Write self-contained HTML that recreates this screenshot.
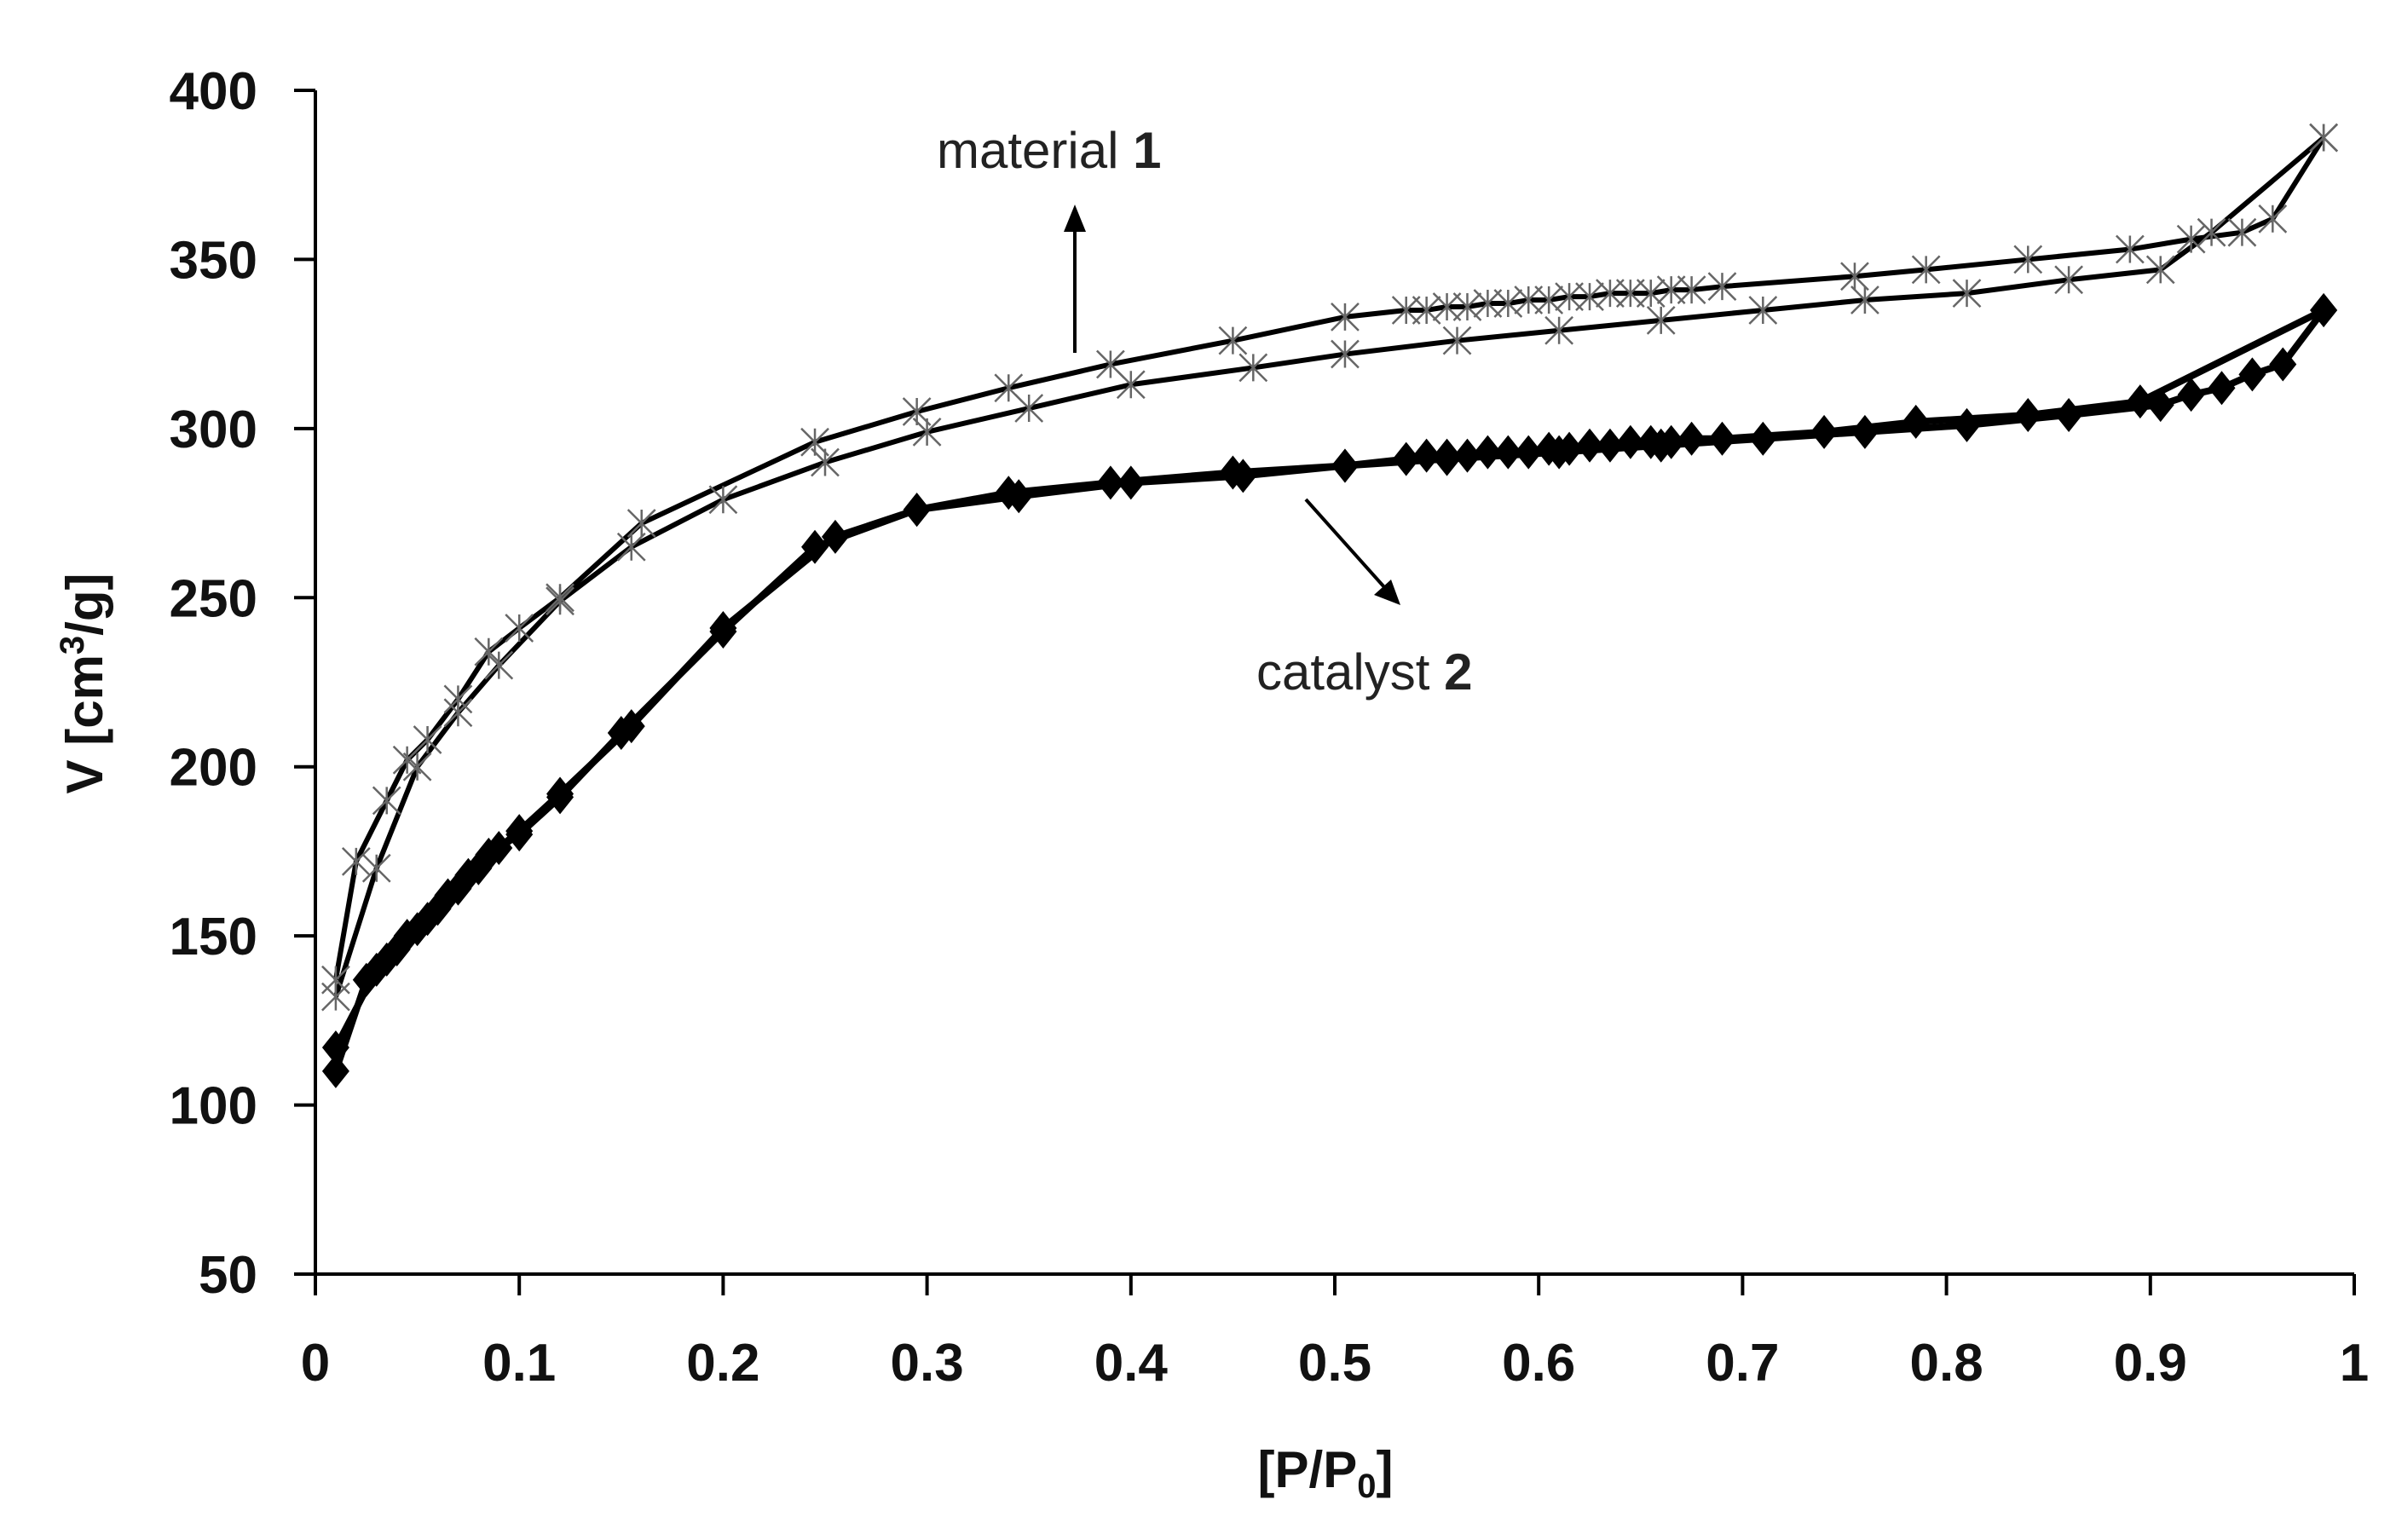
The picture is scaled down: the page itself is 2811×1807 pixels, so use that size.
<!DOCTYPE html>
<html><head><meta charset="utf-8"><style>
html,body{margin:0;padding:0;background:#fff;}
svg{display:block;}
text{font-family:"Liberation Sans",sans-serif;}
</style></head><body>
<svg id="chart" width="2811" height="1807" viewBox="0 0 2811 1807" xmlns="http://www.w3.org/2000/svg">
<g id="axes"></g>
<g id="series"></g>
<text x="0" y="0" transform="translate(120,802) rotate(-90)" text-anchor="middle" font-size="60" font-weight="bold" fill="#111">V [cm<tspan font-size="40" dy="-22">3</tspan><tspan dy="22">/g]</tspan></text>
<text x="1555" y="1745" text-anchor="middle" font-size="60" font-weight="bold" fill="#111">[P/P<tspan font-size="40" dy="12">0</tspan><tspan dy="-12">]</tspan></text>
<text x="1099" y="197" font-size="60" fill="#222">material <tspan font-weight="bold">1</tspan></text>
<text x="1474" y="809" font-size="60" fill="#222">catalyst <tspan font-weight="bold">2</tspan></text>
<g><line x1="1261" y1="414" x2="1261" y2="268" stroke="#000" stroke-width="4"/><polygon points="1248,272 1274,272 1261,240" fill="#000"/></g>
<g><line x1="1532" y1="586" x2="1625" y2="690" stroke="#000" stroke-width="4"/><polygon points="1612,698 1632,680 1643,710" fill="#000"/></g>
</svg>
<script>
const yTicks=[50,100,150,200,250,300,350,400];
const xTicks=[0,0.1,0.2,0.3,0.4,0.5,0.6,0.7,0.8,0.9,1];
const xTickLabels=["0","0.1","0.2","0.3","0.4","0.5","0.6","0.7","0.8","0.9","1"];
const m1AdsX=[0.01,0.03,0.05,0.07,0.09,0.12,0.155,0.2,0.25,0.3,0.35,0.4,0.46,0.505,0.56,0.61,0.66,0.71,0.76,0.81,0.86,0.905,0.93,0.985];
const m1AdsY=[132,170,200,216,230,249,265,279,290,299,306,313,318,322,326,329,332,335,338,340,344,347,358,386];
const m1DesX=[0.985,0.96,0.945,0.92,0.89,0.84,0.79,0.755,0.69,0.675,0.665,0.655,0.645,0.635,0.625,0.615,0.605,0.595,0.585,0.575,0.565,0.555,0.545,0.535,0.505,0.45,0.39,0.34,0.295,0.245,0.16,0.12,0.1,0.085,0.07,0.055,0.045,0.035,0.02,0.01];
const m1DesY=[386,362,358,356,353,350,347,345,342,341,341,340,340,340,339,339,338,338,337,337,336,336,335,335,333,326,319,312,305,296,272,250,241,234,220,208,202,190,172,137];
const c2AdsX=[0.01,0.025,0.035,0.045,0.055,0.065,0.075,0.085,0.1,0.12,0.15,0.2,0.245,0.295,0.345,0.4,0.455,0.505,0.555,0.61,0.66,0.71,0.76,0.81,0.86,0.905,0.92,0.935,0.95,0.965,0.985];
const c2AdsY=[110,137,143,150,155,162,168,174,180,191,210,240,265,276,280,284,286,289,291,293,295,297,299,301,304,307,310,312,316,319,335];
const c2DesX=[0.985,0.895,0.84,0.785,0.74,0.69,0.675,0.665,0.655,0.645,0.635,0.625,0.615,0.605,0.595,0.585,0.575,0.565,0.555,0.545,0.535,0.505,0.45,0.39,0.34,0.295,0.255,0.2,0.155,0.12,0.1,0.09,0.08,0.07,0.06,0.05,0.04,0.03,0.01];
const c2DesY=[335,308,304,302,299,297,297,296,296,296,295,295,294,294,293,293,293,292,292,292,291,289,287,284,281,276,268,241,212,192,181,176,170,164,158,152,146,140,117];

const NS="http://www.w3.org/2000/svg";
const X0=370,X1=2762,Y50=1495,Y400=106;
const sx=v=>X0+v*(X1-X0);
const sy=v=>Y50-(v-50)/350*(Y50-Y400);
function mk(tag,attrs,parent){const e=document.createElementNS(NS,tag);for(const k in attrs)e.setAttribute(k,attrs[k]);parent.appendChild(e);return e;}
const axes=document.getElementById('axes'),ser=document.getElementById('series');
let a=mk('line',{x1:X0,y1:Y400,x2:X0,y2:Y50,stroke:'#000','stroke-width':4},axes);


a=mk('line',{x1:X0-25,y1:Y50,x2:X1,y2:Y50,stroke:'#000','stroke-width':4},axes);


yTicks.forEach(v=>{
 const t=mk('line',{x1:X0-25,y1:sy(v),x2:X0,y2:sy(v),stroke:'#000','stroke-width':4},axes);
 
 
 const l=mk('text',{x:302,y:sy(v)+22,'text-anchor':'end','font-size':62,'font-weight':'bold',fill:'#111'},axes);
 l.textContent=v;
 
 
});
xTicks.forEach((v,i)=>{
 const t=mk('line',{x1:sx(v),y1:Y50,x2:sx(v),y2:Y50+25,stroke:'#000','stroke-width':4},axes);
 
 
 const l=mk('text',{x:sx(v),y:1620,'text-anchor':'middle','font-size':62,'font-weight':'bold',fill:'#111'},axes);
 l.textContent=xTickLabels[i];
 
 
});
function line(xs,ys,name,w){
 const p=mk('polyline',{points:xs.map((x,i)=>sx(x)+','+sy(ys[i])).join(' '),fill:'none',stroke:'#000','stroke-width':w,'stroke-linejoin':'round'},ser);
 
 
}
function stars(xs,ys,name){
 const g=mk('g',{stroke:'#666','stroke-width':2.5},ser);
 
 
 xs.forEach((x,i)=>{const cx=sx(x),cy=sy(ys[i]),r=16;
  mk('path',{d:`M${cx-r},${cy-r}L${cx+r},${cy+r}M${cx-r},${cy+r}L${cx+r},${cy-r}M${cx},${cy-r}L${cx},${cy+r}`},g);});
}
function diamonds(xs,ys,name){
 const g=mk('g',{fill:'#000'},ser);
 
 
 xs.forEach((x,i)=>{const cx=sx(x),cy=sy(ys[i]);
  mk('polygon',{points:`${cx},${cy-20} ${cx+16},${cy} ${cx},${cy+20} ${cx-16},${cy}`},g);});
}
line(m1AdsX,m1AdsY,'material-1-adsorption-line',6);
line(m1DesX,m1DesY,'material-1-desorption-line',6);
stars(m1AdsX,m1AdsY,'material-1-adsorption-markers');
stars(m1DesX,m1DesY,'material-1-desorption-markers');
line(c2AdsX,c2AdsY,'catalyst-2-adsorption-line',8);
line(c2DesX,c2DesY,'catalyst-2-desorption-line',8);
diamonds(c2AdsX,c2AdsY,'catalyst-2-adsorption-markers');
diamonds(c2DesX,c2DesY,'catalyst-2-desorption-markers');
</script>
</body></html>
